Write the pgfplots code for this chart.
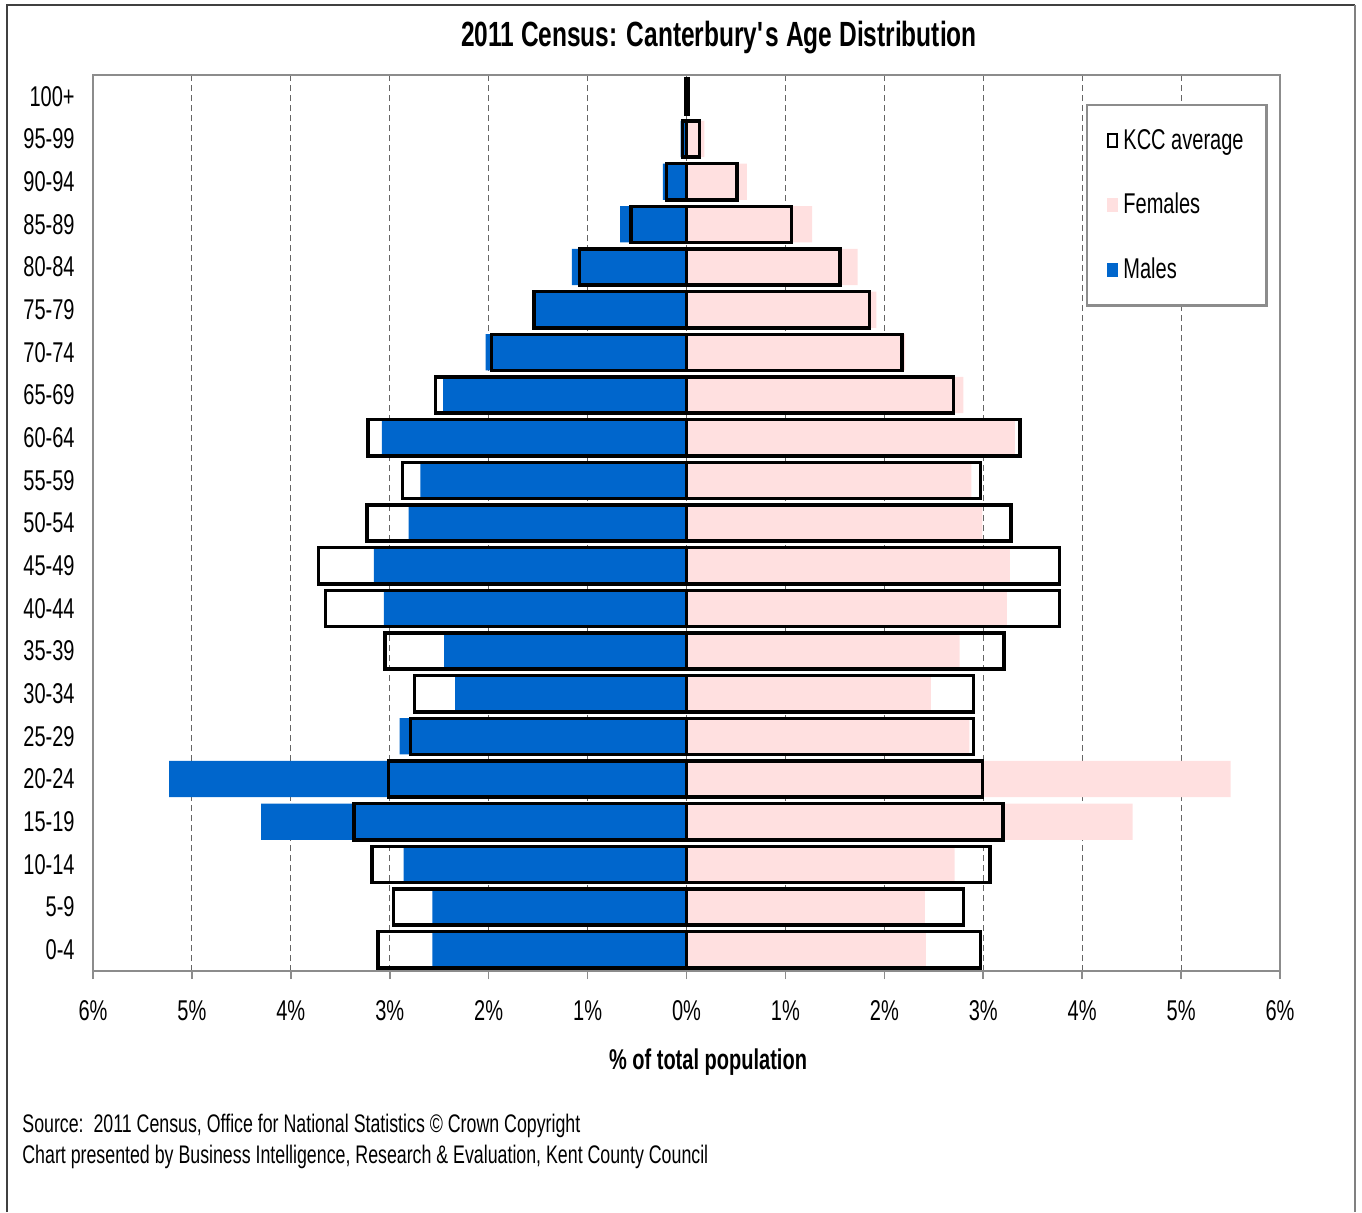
\documentclass[border=0pt]{standalone}
\usepackage{fontspec}
\setmainfont{Liberation Sans}[FakeStretch=0.7]
\usepackage{pgfplots}
\usepackage{pgfplotstable}
\pgfplotsset{compat=1.18}

\definecolor{males}{RGB}{0,102,204}
\definecolor{females}{RGB}{255,224,224}
\definecolor{frame}{RGB}{140,140,140}

% y: 0 = 0-4 ... 20 = 100+ ; values in % of total population
\pgfplotstableread{
y  males  females  kccl   kccr
0  -2.57  2.42     -3.12  2.97
1  -2.57  2.41     -2.96  2.80
2  -2.86  2.71     -3.18  3.07
3  -4.30  4.51     -3.36  3.20
4  -5.23  5.50     -3.01  2.99
5  -2.90  2.86     -2.79  2.90
6  -2.34  2.47     -2.75  2.90
7  -2.45  2.76     -3.05  3.21
8  -3.06  3.24     -3.65  3.77
9  -3.16  3.27     -3.72  3.77
10 -2.81  2.99     -3.23  3.28
11 -2.69  2.88     -2.87  2.97
12 -3.08  3.32     -3.22  3.37
13 -2.46  2.80     -2.54  2.70
14 -2.03  2.21     -1.97  2.18
15 -1.55  1.92     -1.54  1.85
16 -1.16  1.73     -1.08  1.55
17 -0.67  1.27     -0.56  1.06
18 -0.24  0.61     -0.20  0.51
19 -0.06  0.18     -0.04  0.13
20 -0.01  0.02     -0.01  0.02
}\pyramid

\begin{document}
\begin{tikzpicture}[x=0.5pt,y=-0.5pt]
\useasboundingbox (0,0) rectangle (1362,1212);
\draw[black!75, line width=0.8pt] (7,1212) -- (7,5) -- (1355,5);
\draw[gray, line width=0.8pt] (1355,5) -- (1355,1212);

\node[font=\bfseries\fontsize{17.5}{20}\selectfont] at (719,38) {2011 Census: Canterbury\textquotesingle s Age Distribution};
\node[font=\bfseries\fontsize{14.3}{17}\selectfont] at (708,1062) {\% of total population};
\node[anchor=base west, inner sep=0pt, font=\fontsize{12.7}{15}\selectfont] at (22,1132) {Source:\ \ 2011 Census, Office for National Statistics © Crown Copyright};
\node[anchor=base west, inner sep=0pt, font=\fontsize{12.7}{15}\selectfont] at (22,1163) {Chart presented by Business Intelligence, Research \& Evaluation, Kent County Council};

\begin{axis}[
  at={(46.5pt,-485.5pt)}, anchor=south west,
  scale only axis, width=593.5pt, height=448pt,
  xbar, bar shift=0pt, bar width=0.85,
  xmin=-6, xmax=6, ymin=-0.5, ymax=20.5,
  xtick={-6,-5,...,6},
  xticklabels={6\%,5\%,4\%,3\%,2\%,1\%,0\%,1\%,2\%,3\%,4\%,5\%,6\%},
  ytick={0,...,20},
  yticklabels={0-4,5-9,10-14,15-19,20-24,25-29,30-34,35-39,40-44,45-49,50-54,55-59,60-64,65-69,70-74,75-79,80-84,85-89,90-94,95-99,100+},
  ticklabel style={font=\fontsize{14.3}{17}\selectfont},
  xticklabel style={inner sep=0pt, yshift=-10.5pt},
  yticklabel style={inner sep=0pt, xshift=-5pt},
  tick align=outside, xtick pos=left, major tick length=4pt,
  xtick style={draw=frame, line width=0.8pt},
  ytick style={draw=none},
  xmajorgrids, major grid style={densely dashed, black!60, line width=0.5pt},
  axis line style={draw=frame, line width=1.3pt},
  reverse legend,
  legend cell align=left,
  legend style={at={(0.8366,0.9676)}, anchor=north west, draw=frame, line width=1.2pt,
    font=\fontsize{14.3}{17}\selectfont, row sep=17.5pt, inner xsep=10pt, inner ysep=10.5pt,
    nodes={inner sep=1.5pt},
    /tikz/every odd column/.append style={column sep=1pt}},
]
\addplot[fill=males, draw=none, area legend,
  legend image code/.code={\fill[males] (0pt,-3.5pt) rectangle (5.5pt,3.5pt);}]
  table[x=males, y=y] {\pyramid};
\addlegendentry{Males}
\addplot[fill=females, draw=none, area legend,
  legend image code/.code={\fill[females] (0pt,-3.5pt) rectangle (5.5pt,3.5pt);}]
  table[x=females, y=y] {\pyramid};
\addlegendentry{Females}
\addplot[draw=black, fill=none, line width=1.7pt,
  legend image code/.code={\draw[black, line width=1.1pt] (0.5pt,-3pt) rectangle (5pt,3.5pt);}]
  table[x=kccl, y=y] {\pyramid};
\addlegendentry{KCC average}
\addplot[draw=black, fill=none, line width=1.7pt, forget plot]
  table[x=kccr, y=y] {\pyramid};
\end{axis}
\end{tikzpicture}
\end{document}
